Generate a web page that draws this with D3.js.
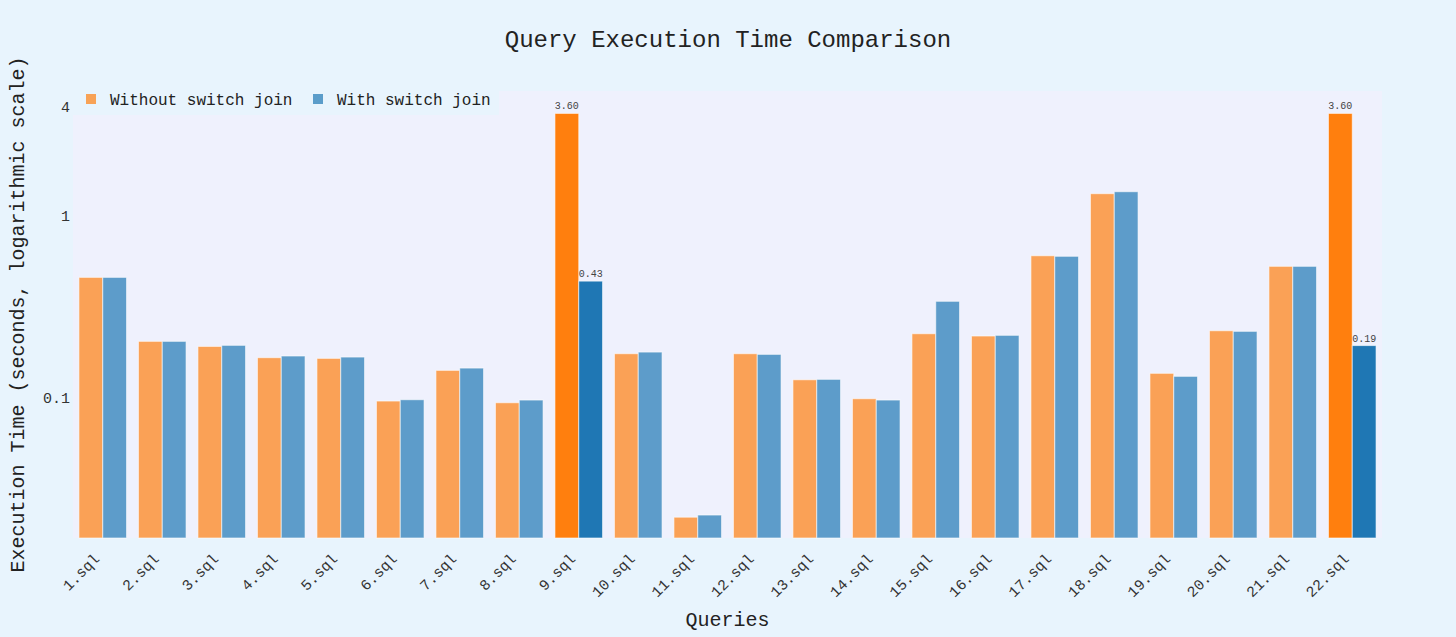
<!DOCTYPE html>
<html>
<head>
<meta charset="utf-8">
<script src="https://cdn.jsdelivr.net/npm/d3@7"></script>
<style>
  html, body { margin: 0; padding: 0; background: #e8f4fd; }
  svg { display: block; font-family: "Courier New", "Liberation Mono", monospace; }
</style>
</head>
<body>
<div id="chart"></div>
<script>
// Data (seconds)
const queries = ["1.sql", "2.sql", "3.sql", "4.sql", "5.sql", "6.sql", "7.sql", "8.sql", "9.sql", "10.sql", "11.sql",
    "12.sql", "13.sql", "14.sql", "15.sql", "16.sql", "17.sql", "18.sql", "19.sql", "20.sql", "21.sql", "22.sql"];
const withoutSwitch = [0.451, 0.2005, 0.188, 0.163, 0.1616, 0.0941, 0.1388, 0.0921, 3.60, 0.1714, 0.0216,
    0.1714, 0.1232, 0.0969, 0.2208, 0.2145, 0.593, 1.302, 0.1337, 0.2293, 0.5187, 3.60];
const withSwitch = [0.451, 0.2005, 0.1906, 0.1665, 0.1643, 0.0957, 0.1429, 0.0953, 0.43, 0.175, 0.0222,
    0.170, 0.1239, 0.0953, 0.333, 0.2164, 0.589, 1.335, 0.1287, 0.2276, 0.5187, 0.19];
const highlighted = ["9.sql", "22.sql"];
const yTicks = [0.1, 1, 4];
const seriesNames = ["Without switch join", "With switch join"];
const seriesColors = ["#ff7f0e", "#1f77b4"];

const W = 1456, H = 637;
const plot = { left: 73, right: 1382, top: 91, bottom: 538 };

const svg = d3.select("#chart").append("svg")
    .attr("width", W)
    .attr("height", H);

svg.append("rect").attr("width", W).attr("height", H).attr("fill", "#e8f4fd");
svg.append("rect")
    .attr("x", plot.left).attr("y", plot.top)
    .attr("width", plot.right - plot.left).attr("height", plot.bottom - plot.top)
    .attr("fill", "#eff1fd");

const x = d3.scaleBand()
    .domain(queries)
    .range([plot.left, plot.right])
    .paddingInner(0.2)
    .paddingOuter(0.1);

const xSub = d3.scaleBand()
    .domain([0, 1])
    .range([0, x.bandwidth()]);

const y = d3.scaleLog()
    .domain([Math.pow(10, -1.780), Math.pow(10, 0.6797)])
    .range([plot.bottom, plot.top]);

const rows = queries.map((q, i) => ({ q: q, vals: [withoutSwitch[i], withSwitch[i]], hi: highlighted.includes(q) }));

const groups = svg.append("g").selectAll("g")
    .data(rows)
    .join("g")
    .attr("transform", d => "translate(" + x(d.q) + ",0)");

groups.selectAll("rect")
    .data(d => d.vals.map((v, s) => ({ v: v, s: s, hi: d.hi })))
    .join("rect")
    .attr("x", d => xSub(d.s))
    .attr("y", d => y(d.v))
    .attr("width", xSub.bandwidth())
    .attr("height", d => plot.bottom - y(d.v))
    .attr("fill", d => seriesColors[d.s])
    .attr("fill-opacity", d => d.hi ? 1 : 0.7)
    .attr("stroke", "#ffffff")
    .attr("stroke-opacity", 0.6)
    .attr("stroke-width", 1);

// value labels on the highlighted queries
groups.filter(d => d.hi).selectAll("text")
    .data(d => d.vals.map((v, s) => ({ v: v, s: s })))
    .join("text")
    .attr("x", d => xSub(d.s) + xSub.bandwidth() / 2)
    .attr("y", d => y(d.v) - 4)
    .attr("text-anchor", "middle")
    .attr("font-size", 10)
    .attr("fill", "#444")
    .text(d => d.v.toFixed(2));

// y axis tick labels
svg.append("g").selectAll("text")
    .data(yTicks)
    .join("text")
    .attr("x", plot.left - 3)
    .attr("y", d => y(d))
    .attr("dy", "0.45em")
    .attr("text-anchor", "end")
    .attr("font-size", 15)
    .attr("fill", "#333")
    .text(d => d);

// x axis tick labels, rotated
svg.append("g").selectAll("text")
    .data(queries)
    .join("text")
    .attr("transform", d => "translate(" + (x(d) + x.bandwidth() / 2 - 6) + "," + (plot.bottom + 18) + ") rotate(-45)")
    .attr("text-anchor", "end")
    .attr("dy", "0.35em")
    .attr("font-size", 15)
    .attr("fill", "#333")
    .text(d => d);

// titles
svg.append("text")
    .attr("x", W / 2).attr("y", 47)
    .attr("text-anchor", "middle")
    .attr("font-size", 24)
    .attr("fill", "#222")
    .text("Query Execution Time Comparison");

svg.append("text")
    .attr("x", (plot.left + plot.right) / 2).attr("y", 626)
    .attr("text-anchor", "middle")
    .attr("font-size", 20)
    .attr("fill", "#222")
    .text("Queries");

svg.append("text")
    .attr("transform", "translate(24," + ((plot.top + plot.bottom) / 2) + ") rotate(-90)")
    .attr("text-anchor", "middle")
    .attr("font-size", 20)
    .attr("fill", "#222")
    .text("Execution Time (seconds, logarithmic scale)");

// legend
const legend = svg.append("g");
legend.append("rect")
    .attr("x", plot.left).attr("y", plot.top)
    .attr("width", 499 - plot.left).attr("height", 24)
    .attr("fill", "#e8f4fd");

const legendX = [86, 313];
const items = legend.selectAll("g")
    .data(seriesNames)
    .join("g")
    .attr("transform", (d, i) => "translate(" + legendX[i] + ",94)");

items.append("rect")
    .attr("width", 10).attr("height", 10)
    .attr("fill", (d, i) => seriesColors[i])
    .attr("fill-opacity", 0.7);

items.append("text")
    .attr("x", 24).attr("y", 11)
    .attr("font-size", 16)
    .attr("fill", "#222")
    .text(d => d);
</script>
</body>
</html>
